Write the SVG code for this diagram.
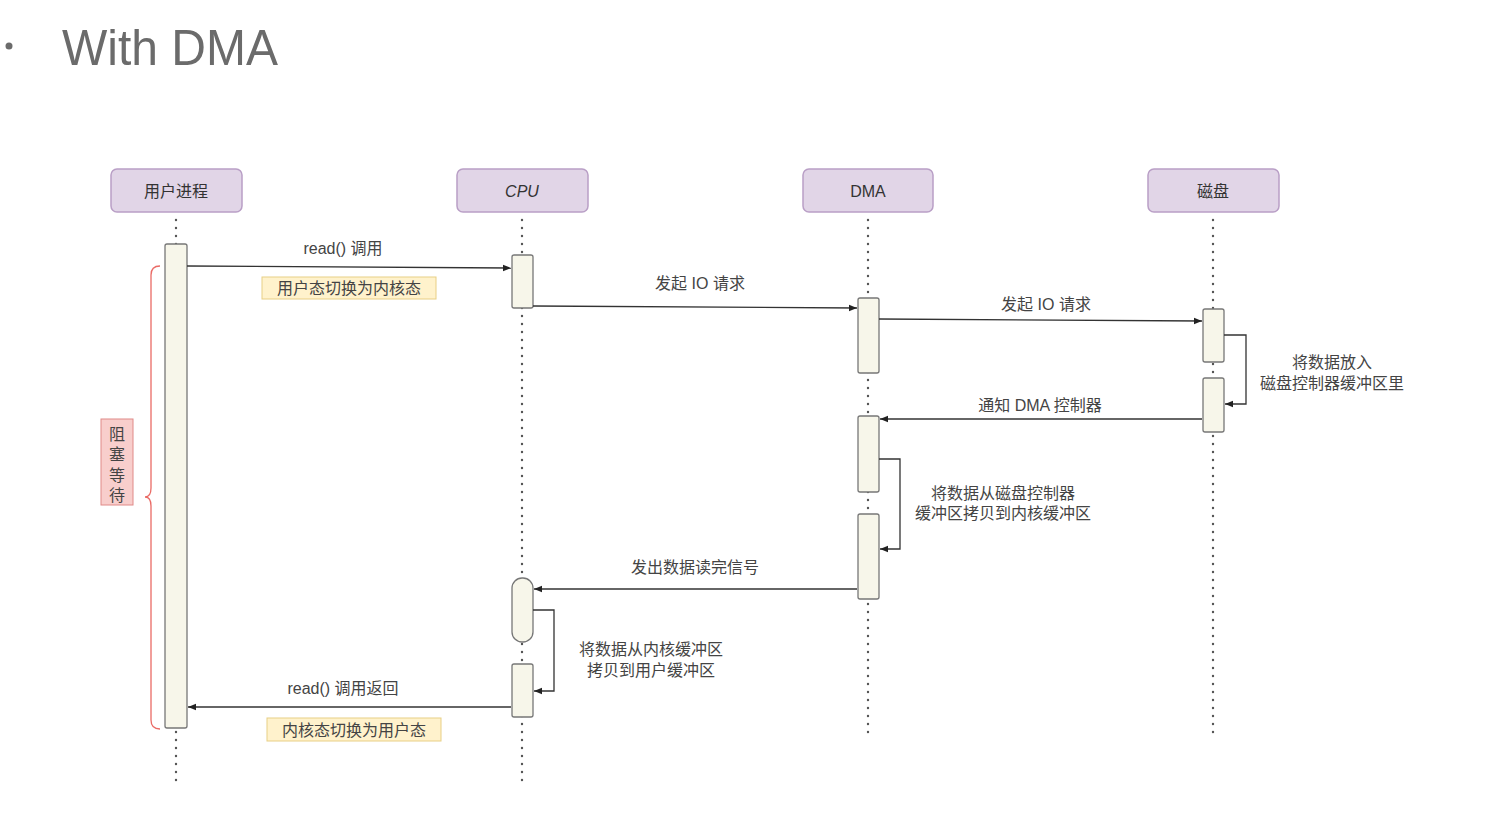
<svg xmlns="http://www.w3.org/2000/svg" width="1498" height="822" viewBox="0 0 1498 822">
<defs>
<style>
.hdr{fill:#e1d5e7;stroke:#b99fc6;stroke-width:1.5}
.ht{font-family:"Liberation Sans","Noto Sans CJK SC",sans-serif;font-size:16px;fill:#333;text-anchor:middle}
.life{stroke:#555;stroke-width:2.4;stroke-dasharray:0 8;stroke-linecap:round;fill:none}
.act{fill:#f7f6ea;stroke:#777;stroke-width:1.3}
.msg{stroke:#333;stroke-width:1.3;fill:none;marker-end:url(#ah)}
.lt{font-family:"Liberation Sans","Noto Sans CJK SC",sans-serif;font-size:16px;fill:#444;text-anchor:middle}
.note{fill:#fff2cc;stroke:#e8cf85;stroke-width:1}
</style>
<marker id="ah" viewBox="0 0 10 10" refX="10" refY="5" markerWidth="8" markerHeight="8" markerUnits="userSpaceOnUse" orient="auto">
<path d="M0,1 L10,5 L0,9 Z" fill="#222"/>
</marker>
</defs>
<rect width="1498" height="822" fill="#ffffff"/>
<g id="title">
<circle cx="9" cy="46" r="3.5" fill="#6b6b6b"/>
<text x="62" y="65" font-family="Liberation Sans, sans-serif" font-size="50" fill="#6b6b6b" textLength="216" lengthAdjust="spacingAndGlyphs">With DMA</text>
</g>
<g id="lifelines">
<line class="life" x1="176" y1="220" x2="176" y2="785"/>
<line class="life" x1="522" y1="220" x2="522" y2="785"/>
<line class="life" x1="868" y1="220" x2="868" y2="740"/>
<line class="life" x1="1213" y1="220" x2="1213" y2="740"/>
</g>
<g id="node-user"><rect class="hdr" x="111" y="169" width="131" height="43" rx="6"/><text class="ht" x="176" y="197">用户进程</text></g>
<g id="node-cpu"><rect class="hdr" x="457" y="169" width="131" height="43" rx="6"/><text class="ht" x="522" y="197" font-style="italic">CPU</text></g>
<g id="node-dma"><rect class="hdr" x="803" y="169" width="130" height="43" rx="6"/><text class="ht" x="868" y="197">DMA</text></g>
<g id="node-disk"><rect class="hdr" x="1148" y="169" width="131" height="43" rx="6"/><text class="ht" x="1213" y="197">磁盘</text></g>
<g id="activations">
<rect class="act" x="165" y="244" width="22" height="484" rx="2"/>
<rect class="act" x="512" y="255" width="21" height="53" rx="2"/>
<rect class="act" x="512" y="578" width="21" height="64" rx="10"/>
<rect class="act" x="512" y="664" width="21" height="53" rx="2"/>
<rect class="act" x="858" y="298" width="21" height="75" rx="2"/>
<rect class="act" x="858" y="416" width="21" height="76" rx="2"/>
<rect class="act" x="858" y="514" width="21" height="85" rx="2"/>
<rect class="act" x="1203" y="309" width="21" height="53" rx="2"/>
<rect class="act" x="1203" y="378" width="21" height="54" rx="2"/>
</g>
<g id="connectors">
<path class="msg" d="M187,266 L511,268"/>
<path class="msg" d="M533,306 L857,308"/>
<path class="msg" d="M879,319 L1202,321"/>
<path class="msg" d="M1224,335 L1246,335 L1246,404 L1225,404"/>
<path class="msg" d="M1202,419 L880,419"/>
<path class="msg" d="M879,459 L900,459 L900,549 L880,549"/>
<path class="msg" d="M857,589 L534,589"/>
<path class="msg" d="M533,610 L554,610 L554,691 L534,691"/>
<path class="msg" d="M511,707 L188,707"/>
</g>
<g id="labels">
<text class="lt" x="343" y="254">read() 调用</text>
<text class="lt" x="700" y="289">发起 IO 请求</text>
<text class="lt" x="1046" y="310">发起 IO 请求</text>
<text class="lt" x="1332" y="368">将数据放入</text>
<text class="lt" x="1332" y="389">磁盘控制器缓冲区里</text>
<text class="lt" x="1040" y="411">通知 DMA 控制器</text>
<text class="lt" x="1003" y="499">将数据从磁盘控制器</text>
<text class="lt" x="1003" y="519">缓冲区拷贝到内核缓冲区</text>
<text class="lt" x="695" y="573">发出数据读完信号</text>
<text class="lt" x="651" y="655">将数据从内核缓冲区</text>
<text class="lt" x="651" y="676">拷贝到用户缓冲区</text>
<text class="lt" x="343" y="694">read() 调用返回</text>
</g>
<g id="note-u2k"><rect class="note" x="262" y="277" width="174" height="22"/><text class="lt" x="349" y="294">用户态切换为内核态</text></g>
<g id="note-k2u"><rect class="note" x="267" y="718" width="174" height="23"/><text class="lt" x="354" y="736">内核态切换为用户态</text></g>
<g id="block-brace">
<path d="M160,266 Q151,266 151,275 L151,488 Q151,497 145,497 Q151,497 151,506 L151,720 Q151,729 160,729" fill="none" stroke="#ea6b66" stroke-width="1.3"/>
<rect x="101" y="419" width="32" height="86" fill="#f8cecc" stroke="#e08a88" stroke-width="1"/>
<text class="lt" x="117" y="440">阻</text>
<text class="lt" x="117" y="460">塞</text>
<text class="lt" x="117" y="481">等</text>
<text class="lt" x="117" y="501">待</text>
</g>
</svg>
